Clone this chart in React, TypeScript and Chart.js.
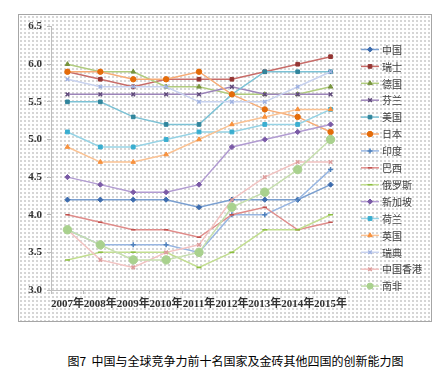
import React, { useEffect, useRef } from "react";
import { Chart, registerables } from "chart.js";
import { drawPoint } from "chart.js/helpers";

Chart.register(...registerables);

const years = ["2007年", "2008年", "2009年", "2010年", "2011年", "2012年", "2013年", "2014年", "2015年"];
const yTicks = [3.0, 3.5, 4.0, 4.5, 5.0, 5.5, 6.0, 6.5];

const china = [4.2, 4.2, 4.2, 4.2, 4.1, 4.2, 4.2, 4.2, 4.4];
const switzerland = [5.9, 5.8, 5.7, 5.8, 5.8, 5.8, 5.9, 6.0, 6.1];
const germany = [6.0, 5.9, 5.9, 5.7, 5.7, 5.6, 5.6, 5.6, 5.7];
const finland = [5.6, 5.6, 5.6, 5.6, 5.6, 5.7, 5.6, 5.6, 5.6];
const usa = [5.5, 5.5, 5.3, 5.2, 5.2, 5.6, 5.9, 5.9, 5.9];
const japan = [5.9, 5.9, 5.8, 5.8, 5.9, 5.6, 5.4, 5.3, 5.1];
const india = [3.8, 3.6, 3.6, 3.6, 3.5, 4.0, 4.0, 4.2, 4.6];
const brazil = [4.0, 3.9, 3.8, 3.8, 3.7, 4.0, 4.1, 3.8, 3.9];
const russia = [3.4, 3.5, 3.5, 3.5, 3.3, 3.5, 3.8, 3.8, 4.0];
const singapore = [4.5, 4.4, 4.3, 4.3, 4.4, 4.9, 5.0, 5.1, 5.2];
const netherlands = [5.1, 4.9, 4.9, 5.0, 5.1, 5.1, 5.2, 5.2, 5.4];
const uk = [4.9, 4.7, 4.7, 4.8, 5.0, 5.2, 5.3, 5.4, 5.4];
const sweden = [5.8, 5.7, 5.7, 5.7, 5.5, 5.5, 5.5, 5.7, 5.9];
const hongkong = [3.8, 3.4, 3.3, 3.5, 3.6, 4.2, 4.5, 4.7, 4.7];
const southAfrica = [3.8, 3.6, 3.4, 3.4, 3.5, 4.1, 4.3, 4.6, 5.0];

const seriesNames = ["中国", "瑞士", "德国", "芬兰", "美国", "日本", "印度", "巴西", "俄罗斯", "新加坡", "荷兰", "英国", "瑞典", "中国香港", "南非"];
const seriesValues = [china, switzerland, germany, finland, usa, japan, india, brazil, russia, singapore, netherlands, uk, sweden, hongkong, southAfrica];
const lineColors = ["#7a9fd0", "#c86c69", "#b0cc7e", "#9d85ba", "#7cc2d5", "#f7ac76", "#98b6e2", "#e08c8a", "#c2de90", "#b29cd2", "#96d3e5", "#fbc293", "#c8d2ef", "#f2c2c1", "#c6dfae"];
const markerColors = ["#3d6cae", "#943634", "#76933c", "#5f497a", "#31859c", "#e46c0a", "#4f81bd", "#c0504d", "#8cbf40", "#7a5aa6", "#3aaed0", "#f7913e", "#9fb2e2", "#dc9c9b", "#a9d18e"];
const markerStyles = ["rectRot", "rect", "triangle", "crossRot", "rect", "circle", "cross", "line", "line", "rectRot", "rect", "triangle", "crossRot", "crossRot", "circle"];
const markerSizes = [2.6, 2.6, 2.6, 2.6, 2.6, 2.7, 2.5, 2.2, 2.5, 2.6, 2.7, 2.6, 2.5, 2.5, 4.2];

const legendPlugin = {
  id: "customLegend",
  afterDraw(chart: any) {
    const ctx = chart.ctx;
    ctx.save();
    chart.data.datasets.forEach((ds: any, i: number) => {
      const y = 34.5 + i * 16.9;
      ctx.strokeStyle = ds.borderColor;
      ctx.lineWidth = 1.5;
      ctx.beginPath();
      ctx.moveTo(342, y);
      ctx.lineTo(360, y);
      ctx.stroke();
      ctx.fillStyle = ds.pointBackgroundColor;
      ctx.strokeStyle = ds.pointBorderColor;
      ctx.lineWidth = ds.pointBorderWidth;
      drawPoint(ctx, { pointStyle: ds.pointStyle, radius: Math.min(ds.pointRadius, 3), rotation: 0, borderWidth: ds.pointBorderWidth }, 351, y);
      ctx.fillStyle = "#404040";
      ctx.font = "10px 'Noto Sans CJK SC', sans-serif";
      ctx.textBaseline = "middle";
      ctx.textAlign = "left";
      ctx.fillText(seriesNames[i], 363, y + 0.5);
    });
    ctx.restore();
  },
};

export default function App() {
  const canvasRef = useRef<HTMLCanvasElement | null>(null);

  useEffect(() => {
    if (!canvasRef.current) return;
    const chart = new Chart(canvasRef.current, {
      type: "line",
      data: {
        labels: years,
        datasets: seriesNames.map((name, i) => ({
          label: name,
          data: seriesValues[i],
          borderColor: lineColors[i],
          backgroundColor: markerColors[i],
          borderWidth: 1.5,
          pointStyle: markerStyles[i],
          pointRadius: markerSizes[i],
          pointBackgroundColor: markerColors[i],
          pointBorderColor: markerColors[i],
          pointBorderWidth: markerStyles[i] === "crossRot" || markerStyles[i] === "cross" || markerStyles[i] === "line" ? 1.5 : 1,
          tension: 0,
          fill: false,
          order: 20 - i,
        })),
      },
      options: {
        responsive: false,
        animation: false,
        layout: { padding: { left: 0, right: 84, top: 10, bottom: 0 } },
        plugins: { legend: { display: false }, tooltip: { enabled: false } },
        scales: {
          x: {
            offset: true,
            grid: { offset: true, drawOnChartArea: false, drawTicks: true, tickLength: 4, color: "#bfbfbf" },
            border: { color: "#bfbfbf", width: 1 },
            ticks: {
              padding: 4,
              color: "#333333",
              font: { family: "'Liberation Serif', 'Noto Sans CJK SC', serif", size: 11, weight: "bold" },
              maxRotation: 0,
              autoSkip: false,
            },
            afterFit: (scale: any) => {
              scale.height = 31;
            },
          },
          y: {
            min: yTicks[0],
            max: yTicks[yTicks.length - 1],
            afterBuildTicks: (scale: any) => {
              scale.ticks = yTicks.map((v) => ({ value: v }));
            },
            grid: { drawOnChartArea: false, drawTicks: true, tickLength: 4, color: "#bfbfbf" },
            border: { color: "#bfbfbf", width: 1 },
            ticks: {
              padding: 5,
              color: "#333333",
              font: { family: "'Liberation Serif', serif", size: 11, weight: "bold" },
              callback: (v: any) => Number(v).toFixed(1),
            },
            afterFit: (scale: any) => {
              scale.width = 32;
            },
          },
        },
      },
      plugins: [legendPlugin],
    } as any);
    return () => chart.destroy();
  }, []);

  return (
    <div style={{ position: "absolute", left: 0, top: 0, width: 447, height: 377, background: "#ffffff" }}>
      <div
        style={{
          position: "absolute",
          left: 18,
          top: 14,
          width: 414,
          height: 308,
          boxSizing: "border-box",
          border: "1px solid #a6a6a6",
          backgroundColor: "#ffffff",
          backgroundImage: "radial-gradient(circle, #d4d4d4 0.7px, transparent 0.9px)",
          backgroundSize: "4px 4px",
        }}
      >
        <canvas ref={canvasRef} width={412} height={306} style={{ display: "block", width: 412, height: 306 }} />
      </div>
      <div
        style={{
          position: "absolute",
          left: 0,
          width: 447,
          top: 353,
          textAlign: "center",
          paddingLeft: 24,
          boxSizing: "border-box",
          fontFamily: "'Noto Sans CJK SC', sans-serif",
          fontSize: 12,
          lineHeight: "16px",
          color: "#000000",
        }}
      >
        图7&nbsp;&nbsp;中国与全球竞争力前十名国家及金砖其他四国的创新能力图
      </div>
    </div>
  );
}
